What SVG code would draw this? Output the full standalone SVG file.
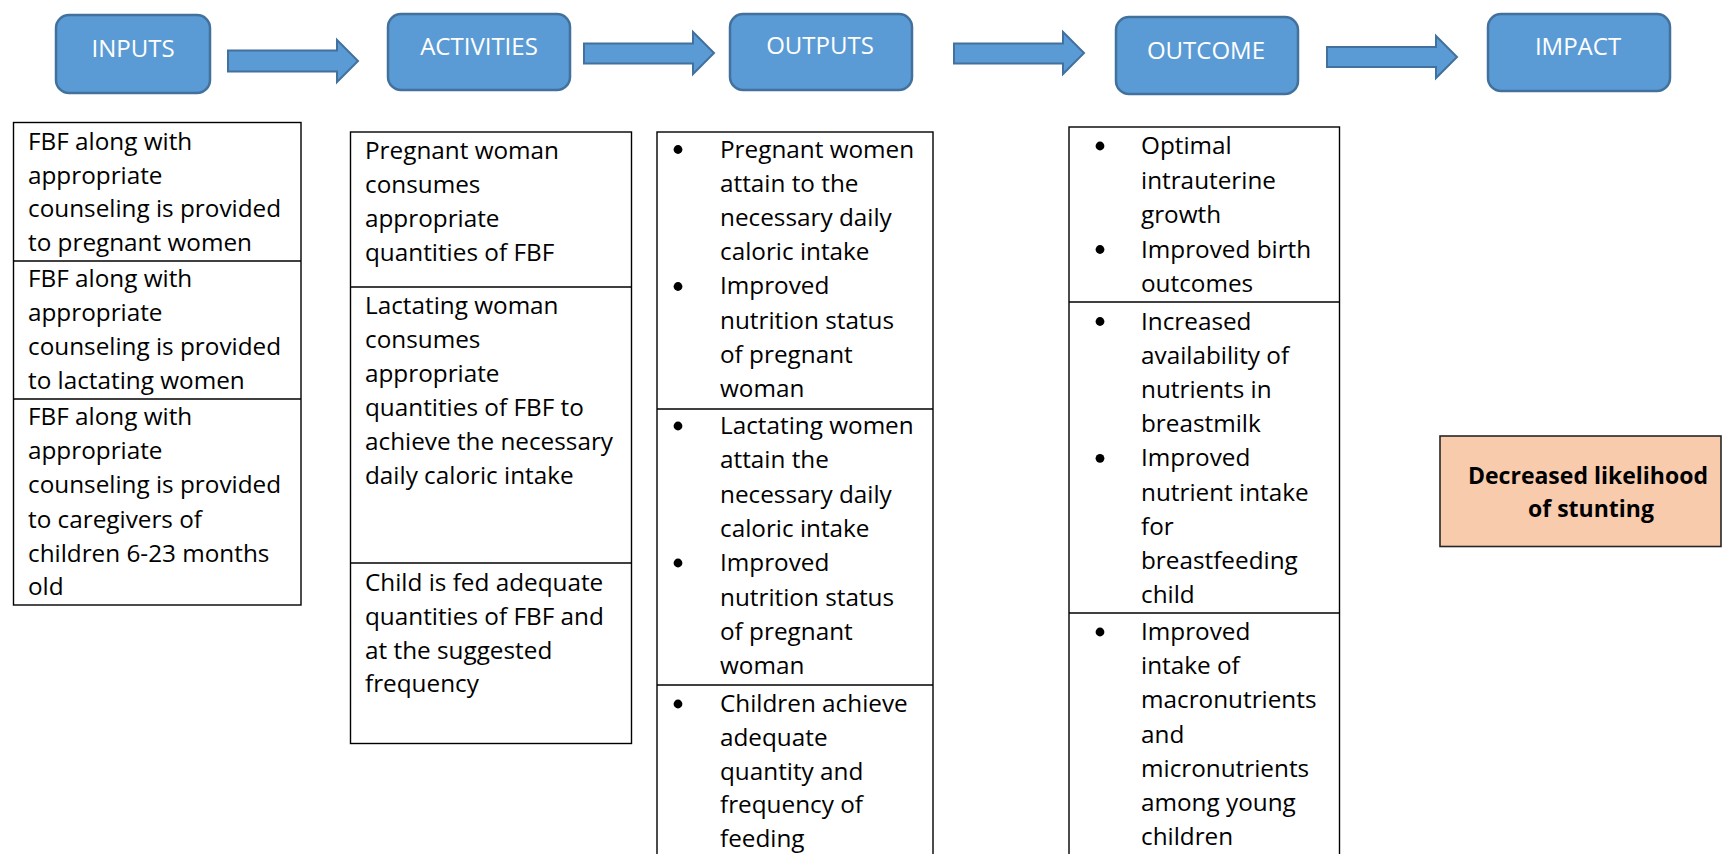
<svg xmlns="http://www.w3.org/2000/svg" width="1722" height="854" viewBox="0 0 1722 854">
  <style>
    .stage { fill: #5B9BD5; stroke: #41719C; stroke-width: 2.5; }
    .stage-label { font-family: "Open Sans", "Liberation Sans", sans-serif; font-size: 24px; fill: #FFFFFF; text-anchor: middle; }
    .flow { fill: #5B9BD5; stroke: #41719C; stroke-width: 2; stroke-linejoin: miter; }
    .cell { fill: #FFFFFF; stroke: #000000; stroke-width: 1.4; }
    .rule { stroke: #000000; stroke-width: 1.4; }
    .body { font-family: "Open Sans", "Liberation Sans", sans-serif; font-size: 24.3px; fill: #000000; }
    .dot { fill: #000000; }
    .result { fill: #F8CBAD; stroke: #262626; stroke-width: 1.6; }
    .result-label { font-family: "Open Sans", "Liberation Sans", sans-serif; font-size: 23px; font-weight: bold; fill: #000000; text-anchor: middle; }
  </style>

  <rect width="1722" height="854" fill="#FFFFFF"/>

  <!-- stage headers -->
  <g id="inputs">
    <rect class="stage" x="56" y="15" width="154" height="78" rx="13"/>
    <text class="stage-label" x="133" y="57">INPUTS</text>
  </g>
  <g id="activities">
    <rect class="stage" x="388" y="14" width="182" height="76" rx="13"/>
    <text class="stage-label" x="479" y="55">ACTIVITIES</text>
  </g>
  <g id="outputs">
    <rect class="stage" x="730" y="14" width="182" height="76" rx="13"/>
    <text class="stage-label" x="820" y="54">OUTPUTS</text>
  </g>
  <g id="outcome">
    <rect class="stage" x="1116" y="17" width="182" height="77" rx="13"/>
    <text class="stage-label" x="1206" y="59">OUTCOME</text>
  </g>
  <g id="impact">
    <rect class="stage" x="1488" y="14" width="182" height="77" rx="13"/>
    <text class="stage-label" x="1578" y="55">IMPACT</text>
  </g>

  <!-- block arrows between stages -->
  <g id="connectors">
    <polygon class="flow" points="228,50.5 337,50.5 337,40 358,61 337,82 337,71.5 228,71.5"/>
    <polygon class="flow" points="584,43.5 693,43.5 693,32 714,53 693,74 693,63.5 584,63.5"/>
    <polygon class="flow" points="954,43.5 1063,43.5 1063,32 1084,53 1063,74 1063,63.5 954,63.5"/>
    <polygon class="flow" points="1327,47 1436,47 1436,36 1457,57 1436,78 1436,67 1327,67"/>
  </g>

  <!-- inputs table -->
  <g id="inputs-detail">
    <rect class="cell" x="13.5" y="122.5" width="287.5" height="482.5"/>
    <line class="rule" x1="13.5" y1="261" x2="301" y2="261"/>
    <line class="rule" x1="13.5" y1="399" x2="301" y2="399"/>
    <text class="body">
      <tspan x="28" y="150">FBF along with</tspan>
      <tspan x="28" y="183.5">appropriate</tspan>
      <tspan x="28" y="217">counseling is provided</tspan>
      <tspan x="28" y="250.5">to pregnant women</tspan>
      <tspan x="28" y="287">FBF along with</tspan>
      <tspan x="28" y="320.5">appropriate</tspan>
      <tspan x="28" y="354.5">counseling is provided</tspan>
      <tspan x="28" y="388.5">to lactating women</tspan>
      <tspan x="28" y="425">FBF along with</tspan>
      <tspan x="28" y="459">appropriate</tspan>
      <tspan x="28" y="493">counseling is provided</tspan>
      <tspan x="28" y="527.5">to caregivers of</tspan>
      <tspan x="28" y="561.5">children 6-23 months</tspan>
      <tspan x="28" y="595">old</tspan>
    </text>
  </g>

  <!-- activities table -->
  <g id="activities-detail">
    <rect class="cell" x="350.5" y="132" width="281" height="611.5"/>
    <line class="rule" x1="350.5" y1="287" x2="631.5" y2="287"/>
    <line class="rule" x1="350.5" y1="563" x2="631.5" y2="563"/>
    <text class="body">
      <tspan x="365" y="159">Pregnant woman</tspan>
      <tspan x="365" y="193">consumes</tspan>
      <tspan x="365" y="227">appropriate</tspan>
      <tspan x="365" y="261">quantities of FBF</tspan>
      <tspan x="365" y="314">Lactating woman</tspan>
      <tspan x="365" y="348">consumes</tspan>
      <tspan x="365" y="381.5">appropriate</tspan>
      <tspan x="365" y="416">quantities of FBF to</tspan>
      <tspan x="365" y="450">achieve the necessary</tspan>
      <tspan x="365" y="483.5">daily caloric intake</tspan>
      <tspan x="365" y="591">Child is fed adequate</tspan>
      <tspan x="365" y="625">quantities of FBF and</tspan>
      <tspan x="365" y="658.5">at the suggested</tspan>
      <tspan x="365" y="691.5">frequency</tspan>
    </text>
  </g>

  <!-- outputs table -->
  <g id="outputs-detail">
    <rect class="cell" x="657" y="132" width="276" height="740"/>
    <line class="rule" x1="657" y1="409" x2="933" y2="409"/>
    <line class="rule" x1="657" y1="685" x2="933" y2="685"/>
    <circle class="dot" cx="678" cy="149.5" r="4.4"/>
    <circle class="dot" cx="678" cy="286.5" r="4.4"/>
    <circle class="dot" cx="678" cy="426" r="4.4"/>
    <circle class="dot" cx="678" cy="563" r="4.4"/>
    <circle class="dot" cx="678" cy="704" r="4.4"/>
    <text class="body">
      <tspan x="720" y="157.5">Pregnant women</tspan>
      <tspan x="720" y="191.7">attain to the</tspan>
      <tspan x="720" y="225.9">necessary daily</tspan>
      <tspan x="720" y="260.1">caloric intake</tspan>
      <tspan x="720" y="294.3">Improved</tspan>
      <tspan x="720" y="328.5">nutrition status</tspan>
      <tspan x="720" y="362.7">of pregnant</tspan>
      <tspan x="720" y="396.9">woman</tspan>
      <tspan x="720" y="434">Lactating women</tspan>
      <tspan x="720" y="468.3">attain the</tspan>
      <tspan x="720" y="502.6">necessary daily</tspan>
      <tspan x="720" y="536.9">caloric intake</tspan>
      <tspan x="720" y="571.2">Improved</tspan>
      <tspan x="720" y="605.5">nutrition status</tspan>
      <tspan x="720" y="639.8">of pregnant</tspan>
      <tspan x="720" y="674">woman</tspan>
      <tspan x="720" y="712">Children achieve</tspan>
      <tspan x="720" y="745.8">adequate</tspan>
      <tspan x="720" y="779.6">quantity and</tspan>
      <tspan x="720" y="813.4">frequency of</tspan>
      <tspan x="720" y="847">feeding</tspan>
    </text>
  </g>

  <!-- outcome table -->
  <g id="outcome-detail">
    <rect class="cell" x="1069" y="127" width="270.5" height="745"/>
    <line class="rule" x1="1069" y1="302" x2="1339.5" y2="302"/>
    <line class="rule" x1="1069" y1="613" x2="1339.5" y2="613"/>
    <circle class="dot" cx="1100" cy="146" r="4.4"/>
    <circle class="dot" cx="1100" cy="249.5" r="4.4"/>
    <circle class="dot" cx="1100" cy="321.5" r="4.4"/>
    <circle class="dot" cx="1100" cy="458.3" r="4.4"/>
    <circle class="dot" cx="1100" cy="632" r="4.4"/>
    <text class="body">
      <tspan x="1141" y="154">Optimal</tspan>
      <tspan x="1141" y="188.5">intrauterine</tspan>
      <tspan x="1141" y="223">growth</tspan>
      <tspan x="1141" y="257.5">Improved birth</tspan>
      <tspan x="1141" y="292">outcomes</tspan>
      <tspan x="1141" y="329.5">Increased</tspan>
      <tspan x="1141" y="363.7">availability of</tspan>
      <tspan x="1141" y="397.9">nutrients in</tspan>
      <tspan x="1141" y="432.1">breastmilk</tspan>
      <tspan x="1141" y="466.3">Improved</tspan>
      <tspan x="1141" y="500.5">nutrient intake</tspan>
      <tspan x="1141" y="534.7">for</tspan>
      <tspan x="1141" y="568.9">breastfeeding</tspan>
      <tspan x="1141" y="603">child</tspan>
      <tspan x="1141" y="640">Improved</tspan>
      <tspan x="1141" y="674.2">intake of</tspan>
      <tspan x="1141" y="708.4">macronutrients</tspan>
      <tspan x="1141" y="742.6">and</tspan>
      <tspan x="1141" y="776.8">micronutrients</tspan>
      <tspan x="1141" y="811">among young</tspan>
      <tspan x="1141" y="845">children</tspan>
    </text>
  </g>

  <!-- impact statement -->
  <g id="impact-detail">
    <rect class="result" x="1440" y="436" width="281" height="110.5"/>
    <text class="result-label">
      <tspan x="1591" y="484">Decreased likelihood</tspan>
      <tspan x="1591" y="517">of stunting</tspan>
    </text>
  </g>
</svg>
